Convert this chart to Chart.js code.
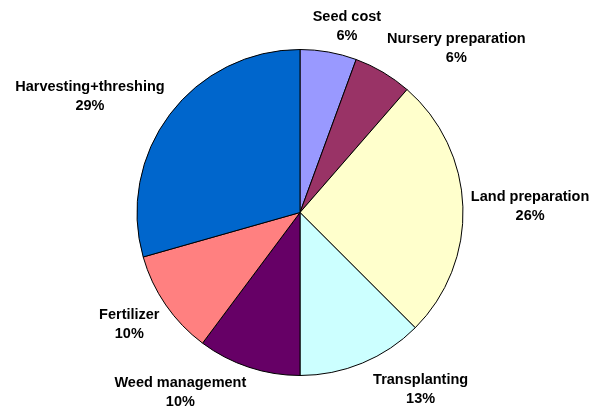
<!DOCTYPE html>
<html>
<head>
<meta charset="utf-8">
<script src="https://cdn.jsdelivr.net/npm/chart.js@4/dist/chart.umd.min.js"></script>
<style>
  html, body { margin: 0; padding: 0; background: #fff; }
  #wrap { width: 589px; height: 409px; position: relative; }
</style>
</head>
<body>
<div id="wrap"><canvas id="costChart"></canvas></div>
<script>
// Cost shares (%), clockwise from 12 o'clock
const categories = ['Seed cost', 'Nursery preparation', 'Land preparation', 'Transplanting',
    'Weed management', 'Fertilizer', 'Harvesting+threshing'];
const shares = [5.6, 5.8, 26.1, 12.5, 10.2, 10.4, 29.4];
const sliceColors = ['#9999FF', '#993366', '#FFFFCC', '#CCFFFF', '#660066', '#FF8080', '#0066CC'];

// Small nudges so labels sit where Excel put them (px)
const labelNudge = [[11, -2], [34, -3], [0, 0], [37, 4], [-45, 3], [-5, 6], [-14, -3]];

// Plugin: draws "name / xx%" outside each slice
const outsideLabels = {
    id: 'outsideLabels',
    afterDatasetsDraw(chart) {
        const ctx = chart.ctx;
        const meta = chart.getDatasetMeta(0);
        const total = shares.reduce((a, b) => a + b, 0);
        ctx.save();
        ctx.font = 'bold 14.5px "Liberation Sans", Arial, sans-serif';
        ctx.fillStyle = '#000';
        ctx.textAlign = 'center';
        ctx.textBaseline = 'middle';
        const lineH = 19;
        meta.data.forEach((arc, i) => {
            const mid = (arc.startAngle + arc.endAngle) / 2;
            const dist = arc.outerRadius + 8;
            const ax = arc.x + Math.cos(mid) * dist;
            const ay = arc.y + Math.sin(mid) * dist;
            const pct = Math.round(shares[i] / total * 100) + '%';
            const hw = Math.max(ctx.measureText(categories[i]).width, ctx.measureText(pct).width) / 2;
            const hh = 16;
            const cx = ax + Math.cos(mid) * hw + labelNudge[i][0];
            const cy = ay + Math.sin(mid) * hh + labelNudge[i][1];
            ctx.fillText(categories[i], cx, cy - lineH / 2);
            ctx.fillText(pct, cx, cy + lineH / 2);
        });
        ctx.restore();
    }
};

new Chart(document.getElementById('costChart').getContext('2d'), {
    type: 'pie',
    data: {
        labels: categories,
        datasets: [{
            data: shares,
            backgroundColor: sliceColors,
            borderColor: '#000',
            borderWidth: 1
        }]
    },
    options: {
        responsive: true,
        maintainAspectRatio: false,
        animation: false,
        layout: {
            padding: { top: 49, bottom: 33, left: 136, right: 125 }
        },
        plugins: {
            legend: { display: false },
            tooltip: { enabled: false }
        }
    },
    plugins: [outsideLabels]
});
</script>
</body>
</html>
